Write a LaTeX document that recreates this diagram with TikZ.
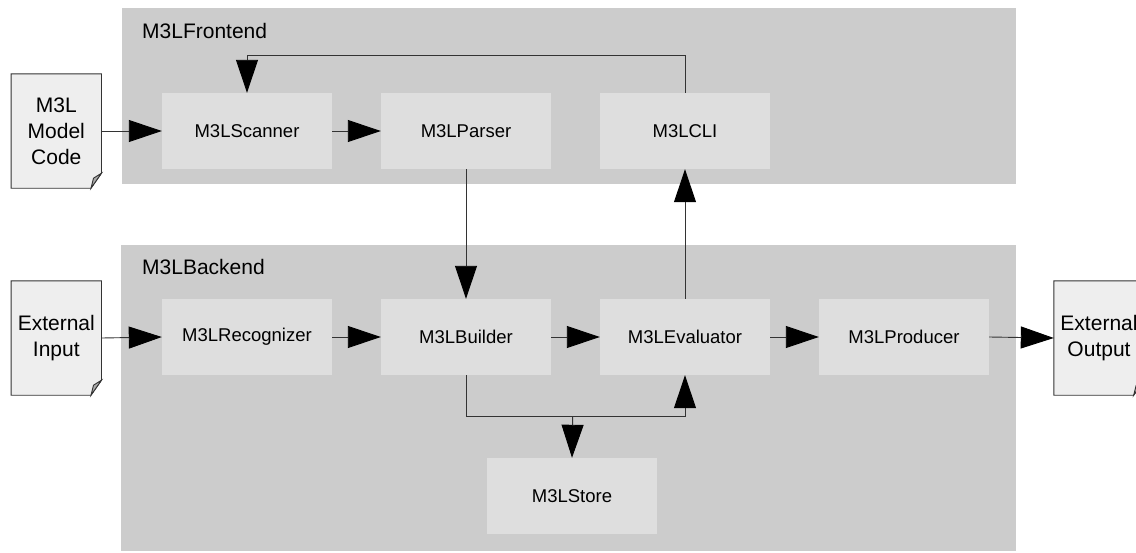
\documentclass[tikz,border=0pt]{standalone}
\usepackage{fontspec}
\setmainfont{Liberation Sans}
\usetikzlibrary{arrows.meta,calc}
\definecolor{panelgray}{HTML}{CCCCCC}
\definecolor{boxgray}{HTML}{DEDEDE}
\definecolor{docgray}{HTML}{EEEEEE}
\definecolor{foldgray}{HTML}{AAAAAA}
\definecolor{linegray}{HTML}{333333}
\tikzset{
  panel/.style={fill=panelgray, draw=none, anchor=north west, inner sep=0pt},
  panellabel/.style={anchor=base west, inner sep=0pt, font=\fontsize{21}{25}\selectfont},
  comp/.style={fill=boxgray, draw=none, minimum width=170pt, minimum height=76pt, inner sep=0pt, font=\fontsize{18.5}{22}\selectfont},
  docnode/.style={draw=none, minimum width=90pt, minimum height=114pt, inner sep=0pt, align=center, font=\fontsize{21}{26}\selectfont},
  docline/.style={draw=linegray, line width=0.9pt, fill=docgray},
  arr/.style={draw=linegray, line width=0.9pt, -{Triangle[length=33pt,width=22pt,black]}},
  plainline/.style={draw=linegray, line width=0.9pt},
}
\newcommand\drawdocshape[1]{%
  \path[docline] (#1.north west) -- (#1.north east) -- ([yshift=15pt]#1.south east) -- ([xshift=-10.5pt]#1.south east) -- (#1.south west) -- cycle;
  \path[draw=linegray, line width=0.9pt, fill=foldgray] ([yshift=15pt]#1.south east) -- ([xshift=-10.5pt]#1.south east) -- ([xshift=-8pt,yshift=10pt]#1.south east) -- cycle;
}
\begin{document}
\begin{tikzpicture}[x=1pt,y=-1pt]
\clip (0,0) rectangle (1136,552);
\fill[white] (0,0) rectangle (1136,552);
% panels
\node[panel, minimum width=894pt, minimum height=176pt] (fe) at (121.5,8) {};
\node[panel, minimum width=895pt, minimum height=306pt] (be) at (121,245) {};
\node[panellabel] (fel) at (142,38.3) {M3LFrontend};
\node[panellabel] (bel) at (142,274.3) {M3LBackend};
% frontend components
\node[comp] (scan) at (247,131) {M3LScanner};
\node[comp] (pars) at (466,131) {M3LParser};
\node[comp] (cli) at (685,131) {M3LCLI};
% backend components
\node[comp] (rec) at (247,337) {M3LRecognizer};
\node[comp] (build) at (466,337) {M3LBuilder};
\node[comp] (eval) at (685,337) {M3LEvaluator};
\node[comp] (prod) at (904,337) {M3LProducer};
\node[comp] (store) at (572,496) {M3LStore};
% documents
\node[docnode] (mc) at (56.3,131) {};
\drawdocshape{mc}
\node[docnode] at (mc) {M3L\\Model\\Code};
\node[docnode] (ei) at (56.3,338) {};
\drawdocshape{ei}
\node[docnode] at (ei) {External\\Input};
\node[docnode] (eo) at (1099,338) {};
\drawdocshape{eo}
\node[docnode] at (eo) {External\\Output};
% connectors
\coordinate (loop) at (247,55.7);
\coordinate (junc) at (572.7,416.7);
\draw[arr] (mc.east) -- (scan.west);
\draw[arr] (scan.east) -- (pars.west);
\draw[arr] (cli.north) |- (loop) -- (scan.north);
\draw[arr] (pars.south) -- (build.north);
\draw[arr] (eval.north) -- (cli.south);
\draw[arr] (ei.east) -- (rec.west);
\draw[arr] (rec.east) -- (build.west);
\draw[arr] (build.east) -- (eval.west);
\draw[arr] (eval.east) -- (prod.west);
\draw[arr] (prod.east) -- (eo.west);
\draw[arr] (build.south) |- (junc) -| (eval.south);
\draw[arr] (junc) -- (store.north);
\end{tikzpicture}
\end{document}
